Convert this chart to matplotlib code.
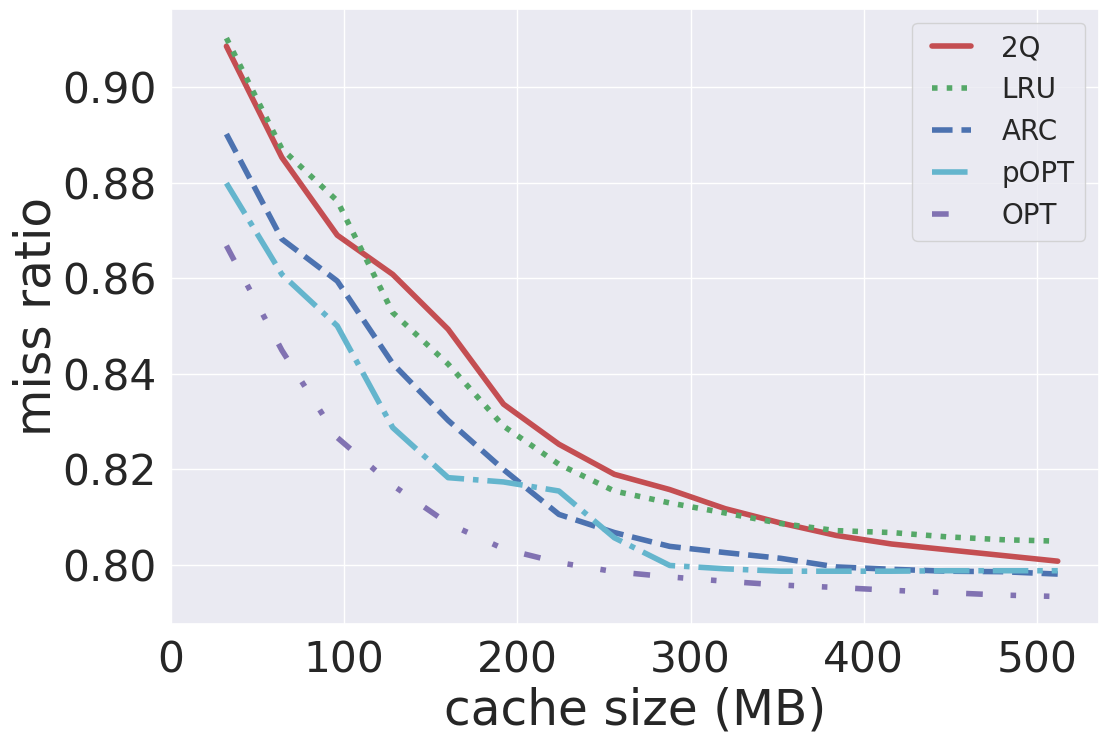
import matplotlib
matplotlib.use("Agg")
import matplotlib.pyplot as plt
import seaborn as sns

sns.set_theme(style="darkgrid")
plt.rcParams['font.family'] = ['DejaVu Sans']

cache_mb = [32, 64, 96, 128, 160, 192, 224, 256, 288, 320, 352, 384, 416, 448, 480, 512]
q2 = [0.9086, 0.8853, 0.8690, 0.8608, 0.8493, 0.8336, 0.8252, 0.8189,
      0.8157, 0.8117, 0.8087, 0.8061, 0.8043, 0.8031, 0.8019, 0.8007]
lru = [0.9103, 0.8871, 0.8762, 0.8528, 0.8420, 0.8290, 0.8210, 0.8154,
       0.8129, 0.8108, 0.8086, 0.8071, 0.8067, 0.8058, 0.8052, 0.8049]
arc = [0.8902, 0.8682, 0.8594, 0.8421, 0.8302, 0.8199, 0.8105, 0.8067,
       0.8038, 0.8025, 0.8013, 0.7995, 0.7990, 0.7986, 0.7985, 0.7980]
popt = [0.8799, 0.8608, 0.8500, 0.8287, 0.8182, 0.8173, 0.8154, 0.8056,
        0.7998, 0.7991, 0.7986, 0.7986, 0.7986, 0.7987, 0.7987, 0.7987]
opt = [0.8668, 0.8449, 0.8266, 0.8166, 0.8086, 0.8033, 0.8004, 0.7985,
       0.7974, 0.7965, 0.7957, 0.7952, 0.7946, 0.7941, 0.7936, 0.7933]

labels = ["2Q", "LRU", "ARC", "pOPT", "OPT"]
series = [q2, lru, arc, popt, opt]
colors = ["#C44E52", "#55A868", "#4C72B0", "#64B5CD", "#8172B2"]
styles = ["-", ":", "--", "-.", (0, (3, 5, 1, 5, 1, 5))]

W, H = 1109, 744
fig = plt.figure(figsize=(W / 100, H / 100), dpi=100)
ax_left, ax_right, ax_top, ax_bottom = 171, 1099.3, 9, 623.7
ax = fig.add_axes([ax_left / W, 1 - ax_bottom / H, (ax_right - ax_left) / W, (ax_bottom - ax_top) / H])

for lab, ys, c, ls in zip(labels, series, colors, styles):
    ax.plot(cache_mb, ys, color=c, linestyle=ls, linewidth=4, label=lab)

ax.set_xlim(0, 536)
ax.set_ylim(0.7876, 0.9164)
ax.set_xticks([0, 100, 200, 300, 400, 500])
ax.set_yticks([0.80, 0.82, 0.84, 0.86, 0.88, 0.90])
ax.set_yticklabels(["0.80", "0.82", "0.84", "0.86", "0.88", "0.90"])
ax.tick_params(axis='both', labelsize=30.5, colors='#262626', length=0)
ax.tick_params(axis='x', pad=11.3)
ax.tick_params(axis='y', pad=10.2)
ax.set_xlabel("cache size (MB)", fontsize=35, color='#262626')
ax.set_ylabel("miss ratio", fontsize=35, color='#262626')
ax.xaxis.set_label_coords(0.5, -63.0 / (ax_bottom - ax_top))
ax.yaxis.set_label_coords((60.3 - ax_left) / (ax_right - ax_left), 0.5)

ax.legend(loc='upper right', fontsize=20, numpoints=2)

fig.savefig("out.png", dpi=100)
